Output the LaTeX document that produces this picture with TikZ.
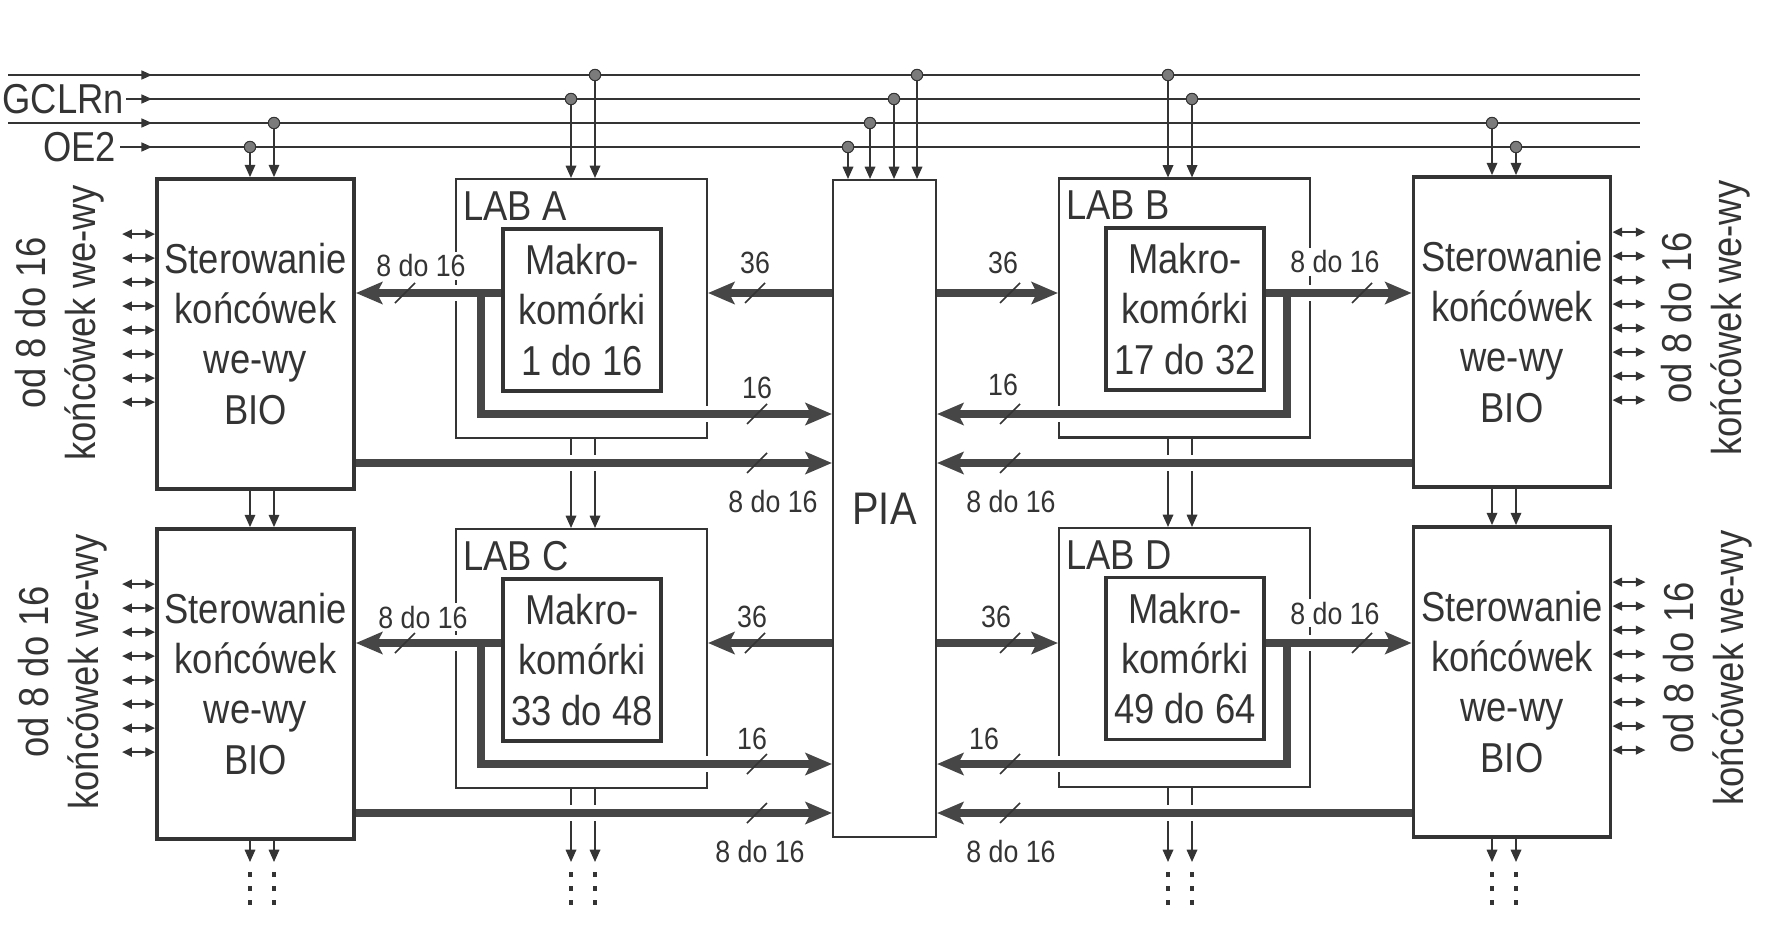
\documentclass[tikz,border=0pt]{standalone}
\usepackage{fontspec}
\setmainfont{Liberation Sans}[FakeStretch=0.87]
\usepackage{tikz}
\usetikzlibrary{arrows.meta,calc}
\definecolor{ink}{RGB}{52,52,52}
\definecolor{busgray}{RGB}{70,70,70}

\begin{document}
\begin{tikzpicture}[
  x=0.02cm, y=-0.02cm,
  every node/.style={font=\fontsize{23.8}{28.5}\selectfont, text=ink},
  bio/.style={draw=ink, line width=2.2pt, minimum width=3.94cm,
              minimum height=6.2cm, align=center, inner sep=0pt},
  lab/.style={draw=ink, line width=1.2pt, minimum width=5.02cm,
              minimum height=5.18cm},
  makro/.style={draw=ink, line width=2.2pt, minimum width=3.16cm,
                minimum height=3.24cm, align=center, inner sep=0pt},
  piabox/.style={draw=ink, line width=1.2pt, minimum width=2.06cm,
                 minimum height=13.14cm, font=\fontsize{26}{30}\selectfont},
  labtitle/.style={anchor=north west, inner sep=0pt},
  side/.style={rotate=90, align=center},
  lbl/.style={fill=white, inner sep=1.5pt, font=\fontsize{17.5}{21}\selectfont},
  sig/.style={ink, line width=1.2pt},
  sigarrow/.style={sig, -{Triangle[length=6pt,width=5pt]}},
  tap/.style={sig, line width=0.9pt, -{Triangle[length=7pt,width=6pt]}},
  tapdot/.style={circle, draw=ink, fill=ink!65, line width=0.6pt,
                 inner sep=0pt, minimum size=6.5pt},
  bidir/.style={ink, line width=1pt,
                {Triangle[length=5.5pt,width=5pt]}-{Triangle[length=5.5pt,width=5pt]}},
  dotcont/.style={ink, line width=2.8pt, dash pattern=on 2.8pt off 5.2pt},
  bus/.style={busgray, line width=4.3pt,
              -{Stealth[length=15pt,width=12.5pt,inset=3pt]}},
  halo/.style={draw=white, line width=9pt, shorten <=3pt, shorten >=6pt},
  bustick/.style={ink, line width=0.9pt},
]
\useasboundingbox (0,0) rectangle (1791,940);

%% I/O blocks
\node[bio] (bioL1) at (255.5,334) {Sterowanie\\końcówek\\we-wy\\BIO};
\node[bio] (bioL2) at (255.5,684) {Sterowanie\\końcówek\\we-wy\\BIO};
\node[bio] (bioR1) at (1512,332)  {Sterowanie\\końcówek\\we-wy\\BIO};
\node[bio] (bioR2) at (1512,682)  {Sterowanie\\końcówek\\we-wy\\BIO};

%% LABs and macrocells
\node[lab] (labL1) at (581.5,308.5) {};
\node[lab] (labL2) at (581.5,658.5) {};
\node[lab] (labR1) at (1184.5,308)  {};
\node[lab] (labR2) at (1184.5,657.5) {};
\node[labtitle] (tA) at ($(labL1.north west)+(8,13)$) {LAB A};
\node[labtitle] (tC) at ($(labL2.north west)+(8,13)$) {LAB C};
\node[labtitle] (tB) at ($(labR1.north west)+(8,13)$) {LAB B};
\node[labtitle] (tD) at ($(labR2.north west)+(8,13)$) {LAB D};

\node[makro] (mkL1) at (582,310)    {Makro-\\komórki\\1 do 16};
\node[makro] (mkL2) at (582,660)    {Makro-\\komórki\\33 do 48};
\node[makro] (mkR1) at (1185,309)   {Makro-\\komórki\\17 do 32};
\node[makro] (mkR2) at (1185,658.5) {Makro-\\komórki\\49 do 64};

%% PIA
\node[piabox] (pia) at (884.5,508.5) {PIA};

%% Pin labels
\node[side] (sideL1) at (60,323)   {od 8 do 16\\końcówek we-wy};
\node[side] (sideL2) at (63,672)   {od 8 do 16\\końcówek we-wy};
\node[side] (sideR1) at (1706,318) {od 8 do 16\\końcówek we-wy};
\node[side] (sideR2) at (1708,668) {od 8 do 16\\końcówek we-wy};

%% Global signal lines
\node[anchor=east, inner sep=1pt] (gclr) at (126,99)  {GCLRn};
\node[anchor=east, inner sep=2pt] (oe)   at (120,147) {OE2};
\coordinate (s1) at (8,75);
\coordinate (s3) at (8,123);
\foreach \n/\y in {1/75,2/99,3/123,4/147} {
  \coordinate (m\n) at (152,\y);
  \coordinate (e\n) at (1640,\y);
}
\draw[sig] (s1) -- (e1);
\draw[sig] (gclr) -- (e2);
\draw[sig] (s3) -- (e3);
\draw[sig] (oe) -- (e4);
\draw[sigarrow] (s1) -- (m1);
\draw[sigarrow] (gclr) -- (m2);
\draw[sigarrow] (s3) -- (m3);
\draw[sigarrow] (oe) -- (m4);

%% Taps into the blocks
\foreach \x/\y/\t in {250/147/bioL1, 274/123/bioL1, 571/99/labL1, 595/75/labL1,
                      848/147/pia, 870/123/pia, 894/99/pia, 917/75/pia,
                      1168/75/labR1, 1192/99/labR1, 1492/123/bioR1, 1516/147/bioR1} {
  \node[tapdot] (d\x) at (\x,\y) {};
  \draw[tap] (d\x) -- (d\x |- \t.north);
}

%% Pass-through to the next row
\foreach \x/\a/\b in {250/bioL1/bioL2, 274/bioL1/bioL2, 571/labL1/labL2, 595/labL1/labL2,
                      1168/labR1/labR2, 1192/labR1/labR2, 1492/bioR1/bioR2, 1516/bioR1/bioR2} {
  \draw[tap] (\a.south -| d\x) -- (\b.north -| d\x);
}

%% Continuation below
\coordinate (bend) at (0,862);
\coordinate (dtop) at (0,872);
\coordinate (dbot) at (0,906);
\foreach \x/\a in {250/bioL2, 274/bioL2, 571/labL2, 595/labL2,
                   1168/labR2, 1192/labR2, 1492/bioR2, 1516/bioR2} {
  \draw[tap] (\a.south -| d\x) -- (bend -| d\x);
  \draw[dotcont] (dtop -| d\x) -- (dbot -| d\x);
}

%% I/O pins
\foreach \b in {bioL1,bioL2}
  \foreach \i in {0,...,7}
    \draw[bidir] ($(\b.north west)+(0,{57+24*\i})$) -- ++(-33,0);
\foreach \b in {bioR1,bioR2}
  \foreach \i in {0,...,7}
    \draw[bidir] ($(\b.north east)+(0,{57+24*\i})$) -- ++(33,0);

%% Bus levels
\foreach \r/\o in {1/0,2/350} {
  \coordinate (tb\r) at (0,293+\o);
  \coordinate (mb\r) at (0,414+\o);
  \coordinate (lb\r) at (0,463+\o);
  \coordinate (brL\r) at (481,293+\o);
  \coordinate (brR\r) at (1287,293+\o);
}

%% Buses (white gap first, then the bus)
\foreach \pass in {halo,bus} {
  \foreach \r in {1,2} {
    \draw[\pass] (mkL\r.west |- tb\r) -- (bioL\r.east |- tb\r);
    \draw[\pass] (brL\r) |- (pia.west |- mb\r);
    \draw[\pass] (pia.west |- tb\r) -- (labL\r.east |- tb\r);
    \draw[\pass] (bioL\r.east |- lb\r) -- (pia.west |- lb\r);
    \draw[\pass] (pia.east |- tb\r) -- (labR\r.west |- tb\r);
    \draw[\pass] (mkR\r.east |- tb\r) -- (bioR\r.west |- tb\r);
    \draw[\pass] (brR\r) |- (pia.east |- mb\r);
    \draw[\pass] (bioR\r.west |- lb\r) -- (pia.east |- lb\r);
  }
}

%% Bus widths
\foreach \n/\x/\y/\t in {wa1/421/266/8 do 16, wb1/755/263/36, wc1/757/388/16,
                         wd1/773/502/8 do 16, we1/1003/263/36, wf1/1003/385/16,
                         wg1/1011/502/8 do 16, wh1/1335/262/8 do 16,
                         wa2/423/617/8 do 16, wb2/752/617/36, wc2/752/739/16,
                         wd2/760/851/8 do 16, we2/996/617/36, wf2/984/739/16,
                         wg2/1011/851/8 do 16, wh2/1335/613/8 do 16} {
  \node[lbl] (\n) at (\x,\y) {\t};
}
\foreach \r/\o in {1/0,2/350} {
  \foreach \x/\y in {405/293, 755/293, 757/414, 757/463,
                     1010/293, 1010/414, 1010/463, 1362/293} {
    \draw[bustick] (\x-10,\y+\o+10) -- ++(20,-20);
  }
}

\end{tikzpicture}
\end{document}
